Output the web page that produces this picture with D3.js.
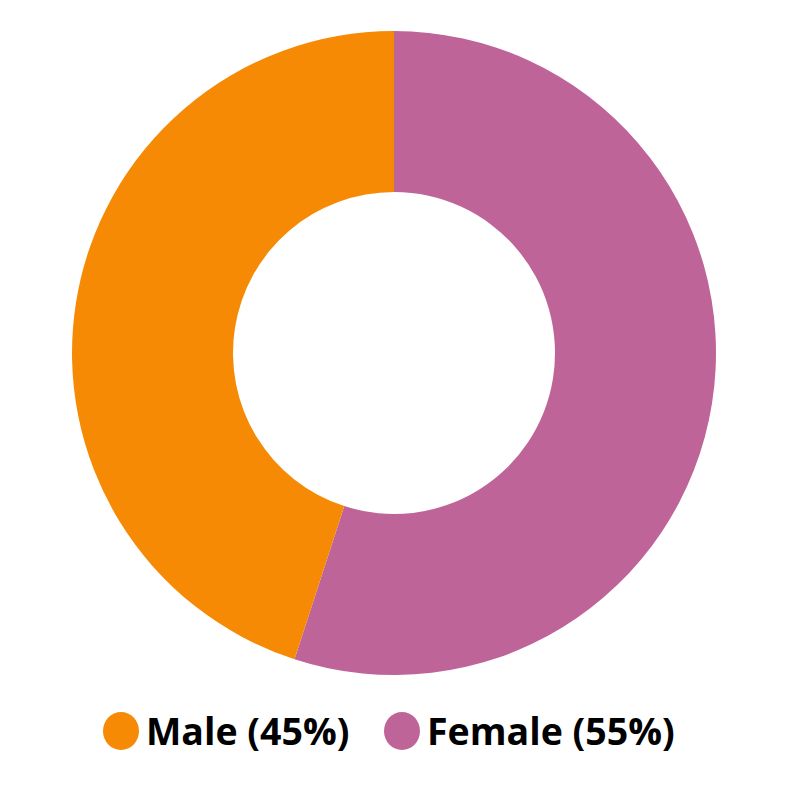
<!DOCTYPE html>
<html>
<head>
<meta charset="utf-8">
<script src="https://cdn.jsdelivr.net/npm/d3@7"></script>
<style>
  html, body { margin: 0; padding: 0; background: #fff; }
</style>
</head>
<body>
<svg id="donut" width="788" height="788"></svg>
<script>
// data
var categories = ["Female", "Male"];
var values = [55, 45];
var labels = ["Female (55%)", "Male (45%)"];
var colors = ["#BF6499", "#F68A04"];

var svg = d3.select("#donut"),
    width = +svg.attr("width"),
    height = +svg.attr("height");

var cx = 394, cy = 353;
var outerR = 322, innerR = 161;

var color = d3.scaleOrdinal().domain(categories).range(colors);

var pie = d3.pie().sort(null).value(function(d){ return d.v; });
var arc = d3.arc().innerRadius(innerR).outerRadius(outerR);

var rows = categories.map(function(c, i){ return {cat: c, v: values[i], label: labels[i]}; });

svg.append("g")
    .attr("transform", "translate(" + cx + "," + cy + ")")
  .selectAll("path")
  .data(pie(rows))
  .enter()
  .append("path")
    .attr("d", arc)
    .attr("fill", function(d){ return color(d.data.cat); });

// legend: male first, then female
var legendRows = [rows[1], rows[0]];
var legendX = [121, 402];
var legend = svg.append("g");
var item = legend.selectAll("g")
  .data(legendRows)
  .enter()
  .append("g")
    .attr("transform", function(d, i){ return "translate(" + legendX[i] + ",731)"; });

item.append("ellipse")
    .attr("rx", 18)
    .attr("ry", 19)
    .attr("fill", function(d){ return color(d.cat); });

item.append("text")
    .attr("x", 25)
    .attr("y", 0)
    .attr("dy", "0.36em")
    .style("font-family", "'Open Sans', sans-serif")
    .style("font-weight", "bold")
    .style("font-size", "37.5px")
    .style("fill", "#000")
    .text(function(d){ return d.label; });
</script>
</body>
</html>
